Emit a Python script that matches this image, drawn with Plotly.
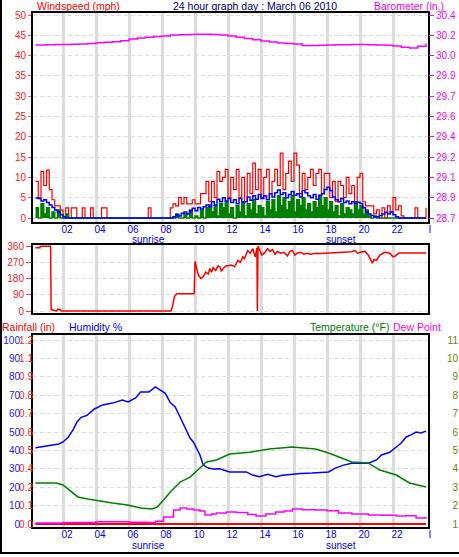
import plotly.graph_objects as go

# ---------------- data ----------------
# wind (10-minute samples starting 00:20, ending 24:00)
gust_mph = [9, 5, 11.5, 8,
            11.8, 7, 4.5, 3, 3, 2,
            0, 2.5, 0, 2.5, 2.5, 0,
            0, 2.5, 0, 0, 2.5, 0,
            0, 0, 2.5, 2.5, 0, 0,
            0, 0, 0, 0, 0, 0,
            0, 0, 0, 0, 0, 0,
            0, 2.5, 0, 0, 0, 0,
            0, 0, 0, 2.5, 3.5, 3,
            5, 3.5, 5, 3.5, 3.5, 4.5,
            3.5, 3.5, 6, 6, 9, 4,
            9, 5, 11.5, 9, 10, 12,
            5, 10, 7, 12, 5, 10,
            4, 11, 6, 13.5, 7, 12,
            5, 10, 12, 6, 9, 12,
            8, 16, 7, 11, 14, 9,
            16, 13, 6, 11, 7, 10,
            12, 8, 11, 12, 6, 11,
            11, 5, 9, 4, 9, 8,
            5, 10, 6, 8, 4, 10,
            11, 4, 3, 3, 3, 1,
            2, 0, 2.5, 0, 3, 1.5,
            5, 2, 3, 0.5, 0, 0,
            0, 0, 2.5, 0, 0, 0,
            2.5]
avg_mph = [4.9, 4.8, 4.2, 4.5,
           3.8, 3.2, 2.6, 2.0, 1.4, 0.8,
           0.3, 0, 0, 0, 0, 0,
           0, 0, 0, 0, 0, 0,
           0, 0, 0, 0, 0, 0,
           0, 0, 0, 0, 0, 0,
           0, 0, 0, 0, 0, 0,
           0, 0, 0, 0, 0, 0,
           0, 0, 0, 0, 0.3, 0.8,
           0.5, 1.2, 1.5, 1.0, 1.8, 2.4,
           1.8, 2.6, 2.2, 2.8, 3.2, 2.8,
           4.0, 3.2, 4.6, 4.0, 5.0, 4.2,
           4.8, 3.8, 4.5, 3.5, 4.8, 3.8,
           4.0, 5.2, 4.4, 5.5, 4.6, 5.8,
           4.8, 5.5, 4.5, 6.0, 5.2, 6.2,
           6.9, 5.8, 6.2, 5.0, 5.8, 6.5,
           5.6, 6.0, 5.2, 6.8, 6.2, 5.5,
           5.0, 5.8, 4.6, 5.6, 6.0, 7.0,
           7.6, 6.8, 5.2, 4.5, 4.0, 4.8,
           3.8, 4.2, 3.5, 4.0, 3.6, 3.9,
           3.6, 2.5, 1.5, 1.0, 0.6, 0.3,
           0.3, 0.6, 1.0, 1.4, 1.0, 1.5,
           0.8, 0.3, 0, 0, 0, 0,
           0, 0, 0, 0, 0, 0,
           0]
speed_mph = [2.5, 0, 3.5, 1,
             2.5, 0, 1.5, 0, 2, 0,
             0, 1, 0, 0, 0, 0,
             0, 0, 0, 0, 0, 0,
             0, 0, 0, 0, 0, 0,
             0, 0, 0, 0, 0, 0,
             0, 0, 0, 0, 0, 0,
             0, 0, 0, 0, 0, 0,
             0, 0, 0, 0, 0, 1,
             0, 0, 1, 0, 2, 0,
             0.5, 0, 2, 0, 2.5, 3.2,
             1.5, 3, 0.5, 3.5, 2.5, 4,
             1, 2.5, 0, 3, 1.5, 4,
             0.5, 3.5, 2, 4.5, 1, 3,
             2.5, 0.5, 4, 2, 4.5, 1.5,
             5.5, 3, 5, 2, 4, 5.5,
             1.5, 4.5, 3, 5, 2, 3.5,
             1.5, 4, 2.5, 5.5, 3, 5,
             2, 4, 1.5, 3, 0.5, 3.5,
             1, 2.5, 2, 1, 4, 2,
             3, 1, 2, 0.5, 0, 0.5,
             0, 0, 0, 0, 0, 0,
             0, 0, 0, 0, 0, 0,
             0, 0, 0, 0, 0, 0,
             0]
wind_hours = [1 / 3 + i / 6 for i in range(len(gust_mph))]

baro_hours = [0.33, 0.5, 1.0, 1.5, 2.0, 2.5, 3.0, 3.5, 4.0, 4.5, 5.0, 5.5, 6.0, 6.5,
              7.0, 7.5, 8.0, 8.5, 9.0, 9.5, 10.0, 10.5, 11.0, 11.5, 12.0, 12.5,
              13.0, 13.5, 14.0, 14.5, 15.0, 15.5, 16.0, 16.5, 17.0, 17.5, 18.0,
              18.5, 19.0, 19.5, 20.0, 20.5, 21.0, 21.5, 22.0, 22.5, 23.0, 23.5, 24.0]
baro_in = [30.156, 30.156, 30.158, 30.160, 30.160, 30.162, 30.164, 30.168, 30.174,
           30.178, 30.183, 30.190, 30.205, 30.213, 30.220, 30.225, 30.230, 30.237,
           30.240, 30.242, 30.243, 30.243, 30.242, 30.238, 30.230, 30.220, 30.210,
           30.198, 30.189, 30.180, 30.172, 30.168, 30.164, 30.152, 30.152, 30.154,
           30.156, 30.158, 30.158, 30.160, 30.160, 30.158, 30.156, 30.155, 30.148,
           30.138, 30.132, 30.146, 30.168]
baro_ticks = [28.75, 28.915, 29.08, 29.245, 29.41, 29.575, 29.74, 29.905, 30.07, 30.235, 30.4]
# tick texts as far as the picture shows them (the image edge cuts them)
baro_labels = ["28.7", "28.9", "29.1", "29.2", "29.4", "29.6", "29.7", "29.9",
               "30.0", "30.2", "30.4"]

dir_hours = [0.33, 0.6, 0.62, 1.25, 1.28, 1.4, 1.5, 1.6, 1.7, 1.8, 1.9, 8.55, 8.65, 8.75,
             8.9, 9.95, 10.0, 10.1, 10.2, 10.35, 10.5, 10.65, 10.8, 10.9, 11.0, 11.1,
             11.25, 11.4, 11.5, 11.6, 11.75, 11.9, 12.0, 12.2, 12.4, 12.6, 12.75, 12.9,
             13.0, 13.2, 13.35, 13.5, 13.65, 13.75, 13.78, 13.82, 13.9, 14.05, 14.2,
             14.4, 14.55, 14.7, 14.85, 15.0, 15.2, 15.4, 15.6, 15.75, 15.9, 16.05,
             16.2, 16.4, 16.6, 16.8, 17.0, 17.3, 17.6, 18.0, 18.5, 19.0, 19.5, 19.7,
             19.85, 20.0, 20.3, 20.5, 20.75, 20.85, 21.0, 21.2, 21.5, 21.8, 22.0,
             22.15, 22.35, 24.0]
dir_deg = [350, 350, 358, 358, 8, 5, 0, 0, 10, 8, 0, 0, 30, 80,
           95, 95, 275, 230, 200, 180, 190, 215, 205, 235, 215, 240,
           225, 250, 245, 220, 240, 250, 250, 255, 245, 280, 270, 300,
           290, 335, 320, 345, 300, 350, 0, 360, 340, 310, 320,
           345, 330, 340, 315, 330, 320, 325, 305, 330, 335, 310,
           320, 325, 315, 320, 315, 320, 318, 320, 322, 326, 328, 335,
           320, 325, 330, 310, 265, 285, 280, 310, 325, 320, 300,
           305, 321, 321]
dir_ticks = [0, 90, 180, 270, 360]
dir_letters = ["N", "E", "S", "W", "N"]

hum_hours = [0.33, 1.4, 1.75, 2.0, 2.3, 2.6, 2.85, 3.1, 3.45, 3.9, 4.4, 5.0, 5.6, 5.95,
             6.4, 6.7, 7.2, 7.6, 7.9, 8.2, 8.5, 8.8, 9.1, 9.4, 9.7, 9.9, 10.3, 10.5,
             10.8, 11.1, 11.5, 12.1, 13.1, 13.5, 13.9, 14.4, 14.9, 15.3, 15.7, 16.4,
             17.1, 18.1, 18.5, 19.0, 19.5, 20.5, 21.0, 21.3, 21.8, 22.2, 22.5, 22.8,
             23.1, 23.4, 23.7, 24.0]
hum_pct = [41.5, 43, 43.5, 44.6, 47, 51, 55.5, 58, 59, 62.5, 64.7, 65.7, 67.4, 66.3,
           68.5, 71.7, 71.7, 74.5, 72.8, 71, 66, 63.6, 58, 52.7, 46.7, 44.6, 37.5, 32,
           30.4, 29.9, 30, 28.3, 28.3, 26.6, 25.7, 27, 25.7, 26.5, 27, 27.5,
           27.7, 28.3, 30.4, 32, 33, 33, 34.8, 37.5, 39, 41.8, 44, 47.3,
           48.4, 50, 49.5, 50.5]

temp_hours = [0.33, 1.6, 2.0, 2.4, 2.9, 3.5, 4.2, 5.0, 5.9, 6.7, 7.4, 7.7, 8.1, 8.5,
              9.1, 9.7, 10.3, 10.7, 11.3, 12.1, 13.3, 14.5, 15.9, 17.3, 18.1, 18.9,
              19.5, 20.5, 21.2, 22.2, 23.0, 24.0]
temp_f = [32.3, 32.3, 31.2, 28.5, 24.7, 23.6, 22.5, 21.4, 20.3, 18.7, 18.2, 19.2, 23,
          27.4, 32.8, 35.5, 40.4, 43.7, 44.8, 48, 49, 50.8, 51.8, 50.8, 48.6, 45.9,
          43.7, 43.2, 39.3, 36.6, 32.3, 30.1]

dew_hours = [0.33, 2.0, 4.0, 6.0, 7.2, 7.6, 8.1, 8.7, 9.1, 9.5, 9.9, 10.3, 10.6, 11.0,
             11.3, 11.9, 12.5, 13.2, 13.7, 14.3, 14.9, 15.4, 15.9, 16.5, 17.3, 18.0,
             18.7, 19.5, 20.5, 21.3, 22.2, 22.8, 23.4, 24.0]
dew_f = [10.6, 10.8, 11.2, 11, 10.8, 11.5, 13.8, 17.6, 18.7, 18.2, 17.6, 17, 14.9, 15.5,
         16, 16.5, 16.3, 15.2, 14.3, 15.5, 16.5, 17, 18.2, 17.8, 17.6, 17.2,
         16, 15.5, 14.9, 14.8, 14.3, 14.5, 13.3, 13.8]

rain_hours = [0.33, 24.0]
rain_in = [0.0, 0.0]
rain_ticks = [0.0, 0.12, 0.24, 0.36, 0.48, 0.6, 0.72, 0.84, 0.96, 1.08, 1.2]
rain_labels = ["0.0", "0.1", "0.2", "0.4", "0.5", "0.6", "0.7", "0.8", "0.9", "1.1", "1.2"]
hum_ticks = [0, 10, 20, 30, 40, 50, 60, 70, 80, 90, 100]
temp_ticks = [10, 20, 30, 40, 50, 60, 70, 80, 90, 100, 110]
# temperature tick texts as far as the picture shows them (the image edge cuts them)
temp_labels = ["1", "2", "3", "4", "5", "6", "7", "8", "9", "10", "11"]

hour_ticks = [2, 4, 6, 8, 10, 12, 14, 16, 18, 20, 22, 24]
hour_labels = ["02", "04", "06", "08", "10", "12", "14", "16", "18", "20", "22", "I"]
grid_hours = [2, 4, 6, 8, 10, 12, 14, 16, 18, 20, 22]
sunrise_hour = 7.2
sunset_hour = 18.85

# ---------------- layout helpers ----------------
W, H = 459, 557
FONT = "Liberation Sans, Arial, sans-serif"


def fx(p):
    return p / W


def fy(p):
    return 1 - p / H


X0, X1 = 33, 428
x_range = [(X0 - 30) / 16.5, (X1 - 30) / 16.5]
GRID = "#dcdcdc"


def xax(anchor, labels=True):
    return dict(domain=[fx(X0), fx(X1)], range=x_range, anchor=anchor,
                tickmode="array", tickvals=hour_ticks, ticktext=hour_labels,
                showticklabels=labels, ticks="", showgrid=False, zeroline=False,
                minor=dict(tickmode="array", tickvals=grid_hours, showgrid=True,
                           gridcolor=GRID, gridwidth=3, ticks=""),
                showline=True, linecolor="black", linewidth=2, mirror=True,
                tickfont=dict(family=FONT, size=10, color="#0000ff"),
                ticklabelshift=4, ticklabelstandoff=-3, automargin=False)


def lin(v0, p0, v1, p1, p):
    return v0 + (v1 - v0) * (p - p0) / (p1 - p0)


# panel 1: wind 0 at 218px, 50 at 15px
wind_range = [lin(0, 218, 50, 15, 222), lin(0, 218, 50, 15, 13)]
baro_range = [28.75 + w * 0.033 for w in wind_range]
# panel 2: 0 at 311px, 360 at 246px
dir_range = [lin(0, 311, 360, 246, 313), lin(0, 311, 360, 246, 245)]
# panel 3: humidity 0 at 524px, 100 at 340px
hum_range = [lin(0, 524, 100, 340, 527), lin(0, 524, 100, 340, 335)]
rain_range = [h * 0.012 for h in hum_range]
temp_range = [h + 10 for h in hum_range]

fig = go.Figure()

# wind panel
fig.add_trace(go.Scatter(x=wind_hours, y=gust_mph, mode="lines", line=dict(color="#ff0000", width=1.2, shape="hv"),
                         xaxis="x", yaxis="y"))
fig.add_trace(go.Scatter(x=wind_hours, y=speed_mph, mode="lines", fill="tozeroy", fillcolor="#008000",
                         line=dict(color="#008000", width=1.5, shape="hv"), xaxis="x", yaxis="y"))
fig.add_trace(go.Scatter(x=wind_hours, y=avg_mph, mode="lines", line=dict(color="#0000ff", width=1.5, shape="hv"),
                         xaxis="x", yaxis="y"))
fig.add_trace(go.Scatter(x=baro_hours, y=baro_in, mode="lines", line=dict(color="#ff00ff", width=1.5, shape="hv"),
                         xaxis="x", yaxis="y2"))
# direction panel
fig.add_trace(go.Scatter(x=dir_hours, y=dir_deg, mode="lines", line=dict(color="#ff0000", width=1.5),
                         xaxis="x2", yaxis="y3"))
# bottom panel
fig.add_trace(go.Scatter(x=rain_hours, y=rain_in, mode="lines", line=dict(color="#ff0000", width=2),
                         xaxis="x3", yaxis="y5"))
fig.add_trace(go.Scatter(x=dew_hours, y=dew_f, mode="lines", line=dict(color="#ff00ff", width=1.5, shape="hv"),
                         xaxis="x3", yaxis="y7"))
fig.add_trace(go.Scatter(x=temp_hours, y=temp_f, mode="lines", line=dict(color="#008000", width=1.5),
                         xaxis="x3", yaxis="y7"))
fig.add_trace(go.Scatter(x=hum_hours, y=hum_pct, mode="lines", line=dict(color="#0000ff", width=1.5),
                         xaxis="x3", yaxis="y6"))

hgrid = dict(showgrid=True, gridcolor=GRID, gridwidth=1, griddash="4px,3px")
box = dict(showline=True, linecolor="black", linewidth=2, mirror=True, zeroline=False, automargin=False)

fig.update_layout(
    width=W, height=H, template="none", showlegend=False,
    margin=dict(l=0, r=0, t=0, b=0, pad=0),
    paper_bgcolor="white", plot_bgcolor="white",
    xaxis=xax("y"),
    xaxis2=xax("y3", labels=False),
    xaxis3=xax("y5"),
    yaxis=dict(domain=[fy(222), fy(13)], range=wind_range, anchor="x",
               tickmode="array", tickvals=[0, 5, 10, 15, 20, 25, 30, 35, 40, 45, 50],
               ticks="outside", ticklen=3, tickcolor="#ff6060",
               tickfont=dict(family=FONT, size=10, color="#ff2020"), **hgrid, **box),
    yaxis2=dict(overlaying="y", side="right", anchor="x", range=baro_range,
                tickmode="array", tickvals=baro_ticks, ticktext=baro_labels,
                ticks="outside", ticklen=5, tickcolor="#ff00ff", showgrid=False,
                zeroline=False, showline=False, automargin=False,
                tickfont=dict(family=FONT, size=10, color="#ff00ff")),
    yaxis3=dict(domain=[fy(313), fy(245)], range=dir_range, anchor="x2",
                tickmode="array", tickvals=dir_ticks,
                ticks="outside", ticklen=5, tickcolor="#ff4040",
                tickfont=dict(family=FONT, size=10, color="#ff2020"), **hgrid, **box),
    yaxis4=dict(overlaying="y3", side="right", anchor="x2", range=dir_range,
                tickmode="array", tickvals=dir_ticks, ticktext=dir_letters,
                ticks="", showgrid=False, zeroline=False, showline=False, automargin=False,
                ticklabelstandoff=5,
                tickfont=dict(family=FONT, size=12, color="#ff0000")),
    yaxis5=dict(domain=[fy(527), fy(335)], range=rain_range, anchor="x3",
                tickmode="array", tickvals=rain_ticks, ticktext=rain_labels,
                ticks="", ticklabelstandoff=-4,
                tickfont=dict(family=FONT, size=10, color="#ff2020"), **hgrid, **box),
    yaxis6=dict(overlaying="y5", side="left", anchor="free", position=fx(20), range=hum_range,
                tickmode="array", tickvals=hum_ticks, ticks="", showgrid=False,
                zeroline=False, showline=False, automargin=False,
                tickfont=dict(family=FONT, size=10, color="#2020ff")),
    yaxis7=dict(overlaying="y5", side="left", anchor="free", position=1.0, range=temp_range,
                tickmode="array", tickvals=temp_ticks, ticktext=temp_labels, ticks="",
                showgrid=False, zeroline=False, showline=False, automargin=False,
                ticklabelstandoff=1,
                tickfont=dict(family=FONT, size=10, color="#5a8c00")),
)


def note(text, x, y, color, anchor="left", xref="paper", size=10.5):
    fig.add_annotation(text=text, x=x, y=y, xref=xref, yref="paper", xanchor=anchor,
                       yanchor="middle", showarrow=False,
                       font=dict(family=FONT, size=size, color=color))


note("Windspeed (mph)", fx(35), fy(6), "#ff0000")
note("24 hour graph day : March 06 2010", fx(255), fy(6), "#000080", anchor="center")
note("Barometer (in.)", fx(372), fy(6), "#ff00ff")
note("Rainfall (in)", fx(0), fy(327), "#ff0000")
note("Humidity %", fx(67), fy(327), "#0000ff")
note("Temperature (°F)", fx(391), fy(327), "#008000", anchor="right")
note("Dew Point", fx(391), fy(327), "#ff00ff")
note("sunrise", sunrise_hour, fy(239.5), "#0000ff", anchor="center", xref="x", size=10)
note("sunset", sunset_hour, fy(239.5), "#0000ff", anchor="center", xref="x", size=10)
note("sunrise", sunrise_hour, fy(545.5), "#0000ff", anchor="center", xref="x3", size=10)
note("sunset", sunset_hour, fy(545.5), "#0000ff", anchor="center", xref="x3", size=10)

# outer frame (left and bottom edges)
fig.add_shape(type="line", xref="paper", yref="paper", x0=fx(1), x1=fx(1), y0=fy(553), y1=1,
              line=dict(color="black", width=2))
fig.add_shape(type="line", xref="paper", yref="paper", x0=0, x1=1, y0=fy(553), y1=fy(553),
              line=dict(color="black", width=2))

fig.write_html("out.html", config={"displayModeBar": False},
               post_script="document.body.style.margin='0';document.body.style.overflow='hidden';")
